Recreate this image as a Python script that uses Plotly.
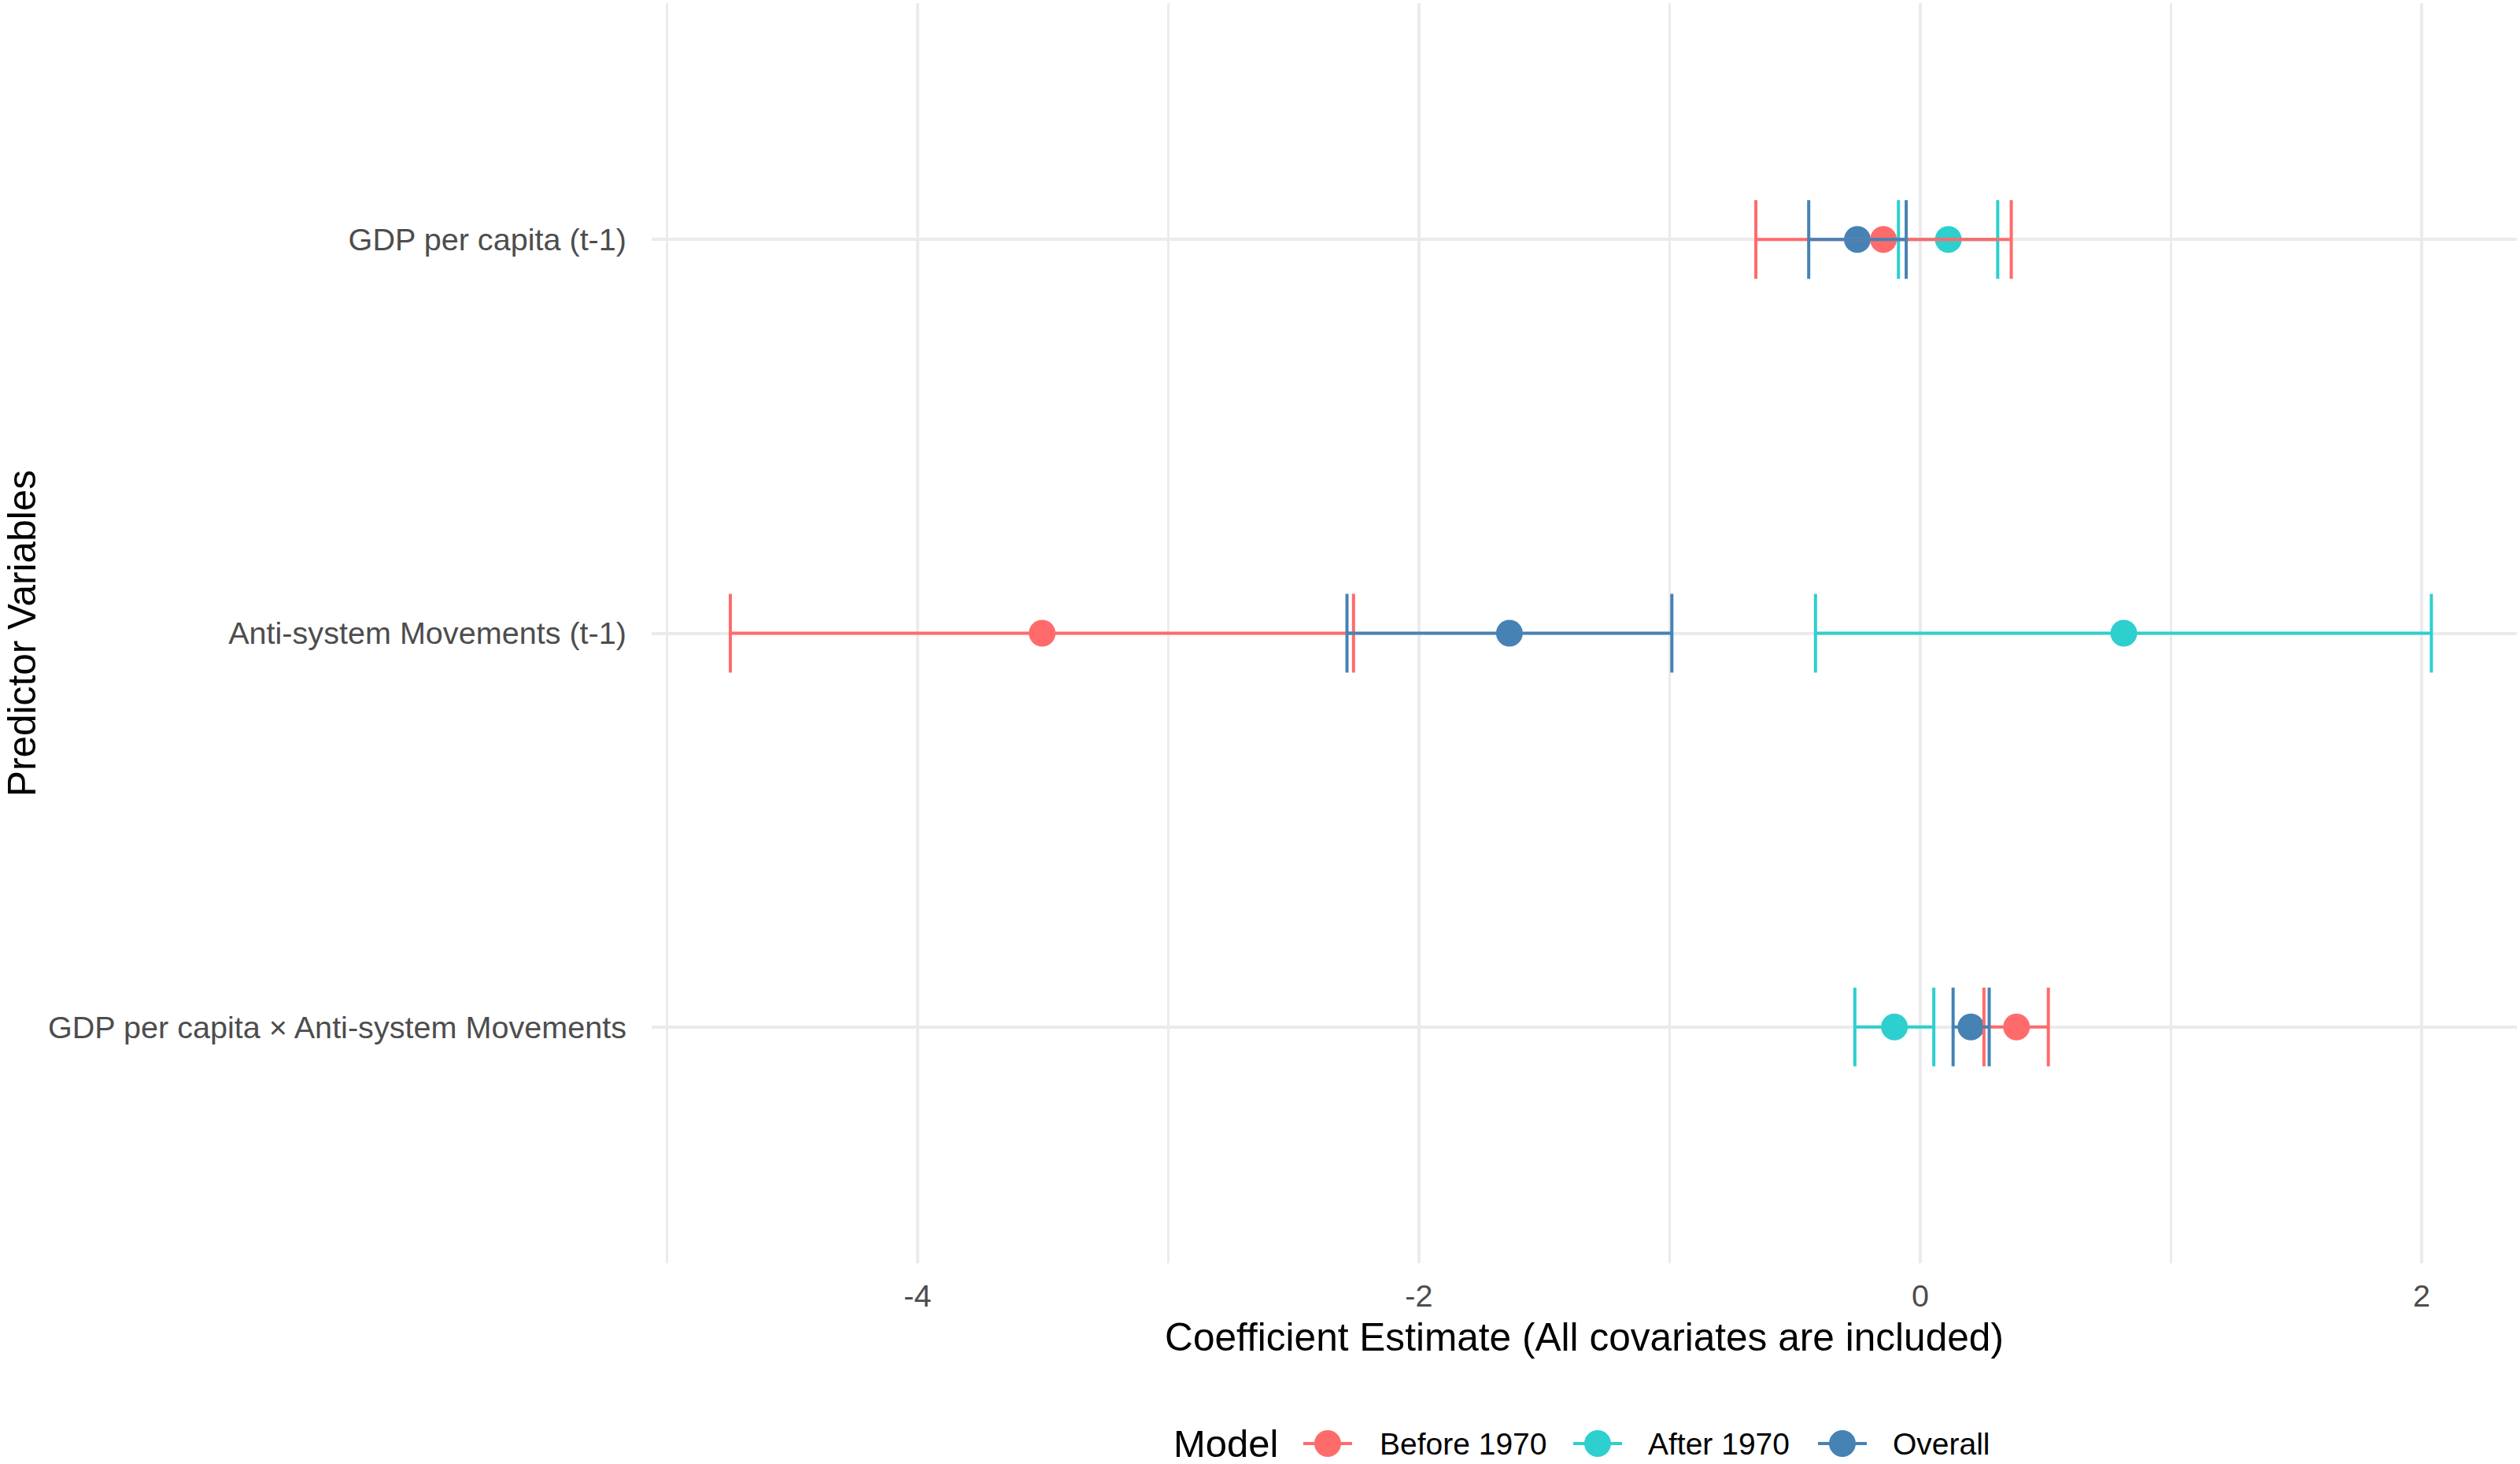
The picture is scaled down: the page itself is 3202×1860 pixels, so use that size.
import plotly.graph_objects as go

# ---- data ----
predictors = [
    "GDP per capita (t-1)",
    "Anti-system Movements (t-1)",
    "GDP per capita × Anti-system Movements",
]
models = ["Before 1970", "After 1970", "Overall"]
colors = ["#FF6B6B", "#2ECFCF", "#4682B4"]

estimate = {
    "Before 1970": [-0.147, -3.503, 0.384],
    "After 1970": [0.112, 0.812, -0.103],
    "Overall": [-0.251, -1.639, 0.202],
}
conf_low = {
    "Before 1970": [-0.656, -4.747, 0.254],
    "After 1970": [-0.087, -0.418, -0.261],
    "Overall": [-0.445, -2.287, 0.131],
}
conf_high = {
    "Before 1970": [0.363, -2.261, 0.511],
    "After 1970": [0.309, 2.039, 0.054],
    "Overall": [-0.056, -0.991, 0.275],
}
x_ticks = [-4, -2, 0, 2]
x_tick_labels = ["-4", "-2", "0", "2"]

# ---- figure geometry ----
W, H = 3202, 1860
ML, MR, MT, MB = 828, 4, 4, 255
PW, PH = W - ML - MR, H - MT - MB

FONT = "Liberation Sans, Arial, Helvetica, sans-serif"
col = dict(zip(models, colors))

fig = go.Figure()

# points (drawn under the error bars, like the reference)
for m in ["Overall", "After 1970", "Before 1970"]:
    fig.add_trace(go.Scatter(
        x=estimate[m], y=predictors, mode="markers", name=m,
        marker=dict(color=col[m], size=34, line=dict(width=0)),
        showlegend=False, hoverinfo="x+y+name",
    ))

# error bars
for m in ["After 1970", "Before 1970", "Overall"]:
    plus = [h - e for h, e in zip(conf_high[m], estimate[m])]
    minus = [e - l for e, l in zip(estimate[m], conf_low[m])]
    fig.add_trace(go.Scatter(
        x=estimate[m], y=predictors, mode="markers", name=m,
        marker=dict(color="rgba(0,0,0,0)", size=2),
        error_x=dict(type="data", symmetric=False, array=plus, arrayminus=minus,
                     color=col[m], thickness=4, width=50),
        showlegend=False, hoverinfo="skip",
    ))

# ---- manual legend (ggplot-style glyphs) ----
def px2paper_x(px):
    return (px - ML) / PW

def px2paper_y(py):
    return (H - MB - py) / PH

leg_y = px2paper_y(1834)
glyph_centers = [1687, 2030, 2341]
text_left = [1753, 2094, 2405]
shapes = []
annotations = [dict(
    text="Model", x=px2paper_x(1489), y=leg_y, xref="paper", yref="paper",
    xanchor="left", yanchor="middle", showarrow=False,
    font=dict(family=FONT, size=49, color="black"))]
for m, gx, tx in zip(models, glyph_centers, text_left):
    shapes.append(dict(type="line", xref="paper", yref="paper",
                       x0=px2paper_x(gx - 31), x1=px2paper_x(gx + 31),
                       y0=leg_y, y1=leg_y, line=dict(color=col[m], width=4)))
    shapes.append(dict(type="circle", xref="paper", yref="paper",
                       xsizemode="pixel", ysizemode="pixel",
                       xanchor=px2paper_x(gx), yanchor=leg_y,
                       x0=-17, x1=17, y0=-17, y1=17,
                       fillcolor=col[m], line=dict(width=0)))
    annotations.append(dict(
        text=m, x=px2paper_x(tx - 2), y=leg_y, xref="paper", yref="paper",
        xanchor="left", yanchor="middle", showarrow=False,
        font=dict(family=FONT, size=39, color="black")))

fig.update_layout(
    width=W, height=H,
    margin=dict(l=ML, r=MR, t=MT, b=MB, pad=0),
    paper_bgcolor="white", plot_bgcolor="white",
    font=dict(family=FONT, color="black"),
    showlegend=False,
    shapes=shapes, annotations=annotations,
    xaxis=dict(
        range=[-5.061, 2.380], tickmode="array", tickvals=x_ticks, ticktext=x_tick_labels,
        showgrid=True, gridcolor="#EBEBEB", gridwidth=4,
        minor=dict(dtick=1, tick0=0, showgrid=True, gridcolor="#EBEBEB", gridwidth=2.5),
        zeroline=False, showline=False, ticks="",
        tickfont=dict(family=FONT, size=39.6, color="#4D4D4D"),
        ticklabelstandoff=14,
        title=dict(text="Coefficient Estimate (All covariates are included)",
                   font=dict(family=FONT, size=49.6, color="black"), standoff=14),
    ),
    yaxis=dict(
        type="category", categoryorder="array", categoryarray=predictors[::-1],
        range=[-0.6, 2.6],
        showgrid=True, gridcolor="#EBEBEB", gridwidth=4,
        zeroline=False, showline=False, ticks="",
        tickfont=dict(family=FONT, size=39.6, color="#4D4D4D"),
        ticklabelstandoff=31,
        title=dict(text="Predictor Variables",
                   font=dict(family=FONT, size=49.6, color="black"), standoff=12),
    ),
)

fig.write_html("out.html")
